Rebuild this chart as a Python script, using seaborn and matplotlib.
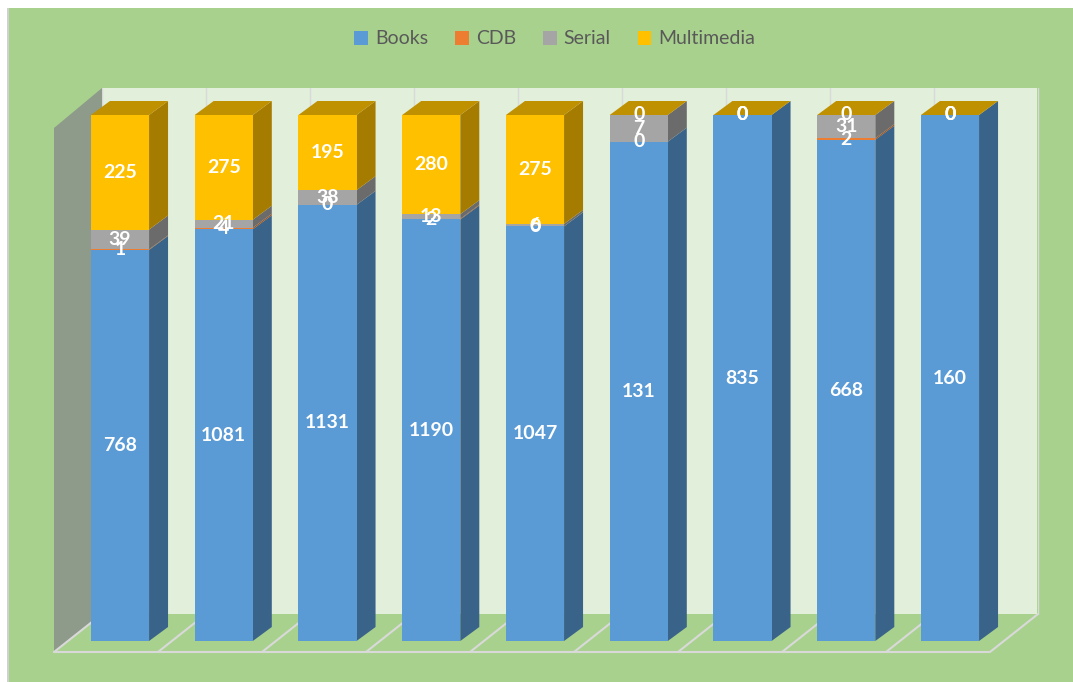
import numpy as np
import pandas as pd
import matplotlib
matplotlib.use("Agg")
import matplotlib.pyplot as plt
from matplotlib.patches import Rectangle, Polygon
import seaborn as sns

categories = ["1", "2", "3", "4", "5", "6", "7", "8", "9"]
books = [768, 1081, 1131, 1190, 1047, 131, 835, 668, 160]
cdb = [1, 4, 0, 2, 0, 0, 0, 2, 0]
serial = [39, 21, 38, 13, 6, 7, 0, 31, 0]
multimedia = [225, 275, 195, 280, 275, 0, 0, 0, 0]

series_names = ["Books", "CDB", "Serial", "Multimedia"]
series_vals = [books, cdb, serial, multimedia]
front_cols = ["#5B9BD5", "#ED7D31", "#A5A5A5", "#FFC000"]
side_cols = ["#3A6389", "#9E5220", "#6B6B6B", "#A67C00"]
top_col = "#BF9000"

sns.set_theme(style="white")
plt.rcParams["font.family"] = ["Lato", "DejaVu Sans"]

W, H = 1073, 682
fig = plt.figure(figsize=(W / 100, H / 100), dpi=100, facecolor="white")
ax = fig.add_axes([0, 0, 1, 1])
ax.patch.set_alpha(0)
# chart area background (white margin at top/left as in reference)
ax.add_patch(Rectangle((8 / W, 0), 1 - 8 / W, 1 - 8 / H, transform=ax.transAxes,
                       facecolor="#A9D18E", edgecolor="none", zorder=-2))
ax.add_patch(Rectangle((7 / W, 0), 1.5 / W, 1 - 8 / H, transform=ax.transAxes,
                       facecolor="#D0D0D0", edgecolor="none", zorder=-2))

# pixel -> data mapping
px0, pstep = 120.0, 103.75
ybot, ytop = 641.0, 115.0
def xd(px): return (px - px0) / pstep
def yd(py): return (ybot - py) / (ybot - ytop)

n = len(categories)
vals = np.array(series_vals, dtype=float)
tot = vals.sum(axis=0)
frac = vals / tot
cum = np.cumsum(frac, axis=0)
starts = cum - frac

# walls & floor
bw_x0, bw_x1 = xd(102), xd(1037)
bw_y0, bw_y1 = yd(614), yd(88)
ax.add_patch(Polygon([(bw_x0, bw_y0), (bw_x1, bw_y0), (bw_x1, bw_y1), (bw_x0, bw_y1)],
                     closed=True, facecolor="#E2EFDA", edgecolor="none", zorder=0))
fl_dx = xd(102) - xd(54)
ax.add_patch(Polygon([(xd(54), yd(652)), (xd(989), yd(652)), (bw_x1, bw_y0), (bw_x0, bw_y0)],
                     closed=True, facecolor="#A9D18E", edgecolor="none", zorder=0.5))
ax.add_patch(Polygon([(xd(54), yd(652)), (bw_x0, bw_y0), (bw_x0, bw_y1), (xd(54), yd(128))],
                     closed=True, facecolor="#8E9A8A", edgecolor="none", zorder=0.6))
# floor gridlines
gl = "#D9D9D9"
for k in range(n + 1):
    fx = xd(54 + k * 104)
    ax.plot([fx, fx + fl_dx], [yd(652), bw_y0], color=gl, lw=1.5, zorder=0.7)
    ax.plot([fx + fl_dx, fx + fl_dx], [bw_y0, bw_y1], color=gl, lw=1.0, zorder=0.3)
ax.plot([xd(54), xd(989)], [yd(652), yd(652)], color=gl, lw=1.5, zorder=0.7)

# front faces via seaborn (draw cumulative tops from last series down)
df = pd.DataFrame({"cat": categories})
bw = 0.56
for i in range(len(series_names) - 1, -1, -1):
    df["top"] = cum[i]
    sns.barplot(data=df, x="cat", y="top", color=front_cols[i], width=bw,
                saturation=1, ax=ax, zorder=3, linewidth=0)

# 3D side & top faces computed from data
ddx, ddy = xd(168) - xd(149), yd(101) - yd(115)
for j in range(n):
    xr = j + bw / 2
    xl = j - bw / 2
    for i in range(len(series_names)):
        y0, y1 = starts[i, j], cum[i, j]
        if y1 - y0 <= 0:
            continue
        ax.add_patch(Polygon([(xr, y0), (xr + ddx, y0 + ddy), (xr + ddx, y1 + ddy), (xr, y1)],
                             closed=True, facecolor=side_cols[i], edgecolor="none", zorder=2.5))
    yt = cum[-1, j]
    ax.add_patch(Polygon([(xl, yt), (xr, yt), (xr + ddx, yt + ddy), (xl + ddx, yt + ddy)],
                         closed=True, facecolor=top_col, edgecolor="none", zorder=2.5))

# labels
for j in range(n):
    for i in range(len(series_names)):
        yc = (starts[i, j] + cum[i, j]) / 2
        ax.text(j, yc, f"{int(vals[i, j])}", ha="center", va="center", color="white",
                fontsize=14, fontweight="bold", zorder=5)

ax.set_xlim(xd(0), xd(W))
ax.set_ylim(yd(H), yd(0))
ax.set_axis_off()

# legend
handles = [Rectangle((0, 0), 1, 1, facecolor=c, edgecolor="none") for c in front_cols]
fig.legend(handles, series_names, loc="center", bbox_to_anchor=(0.517, 1 - 39 / H),
           ncol=4, frameon=False, fontsize=14, labelcolor="#595959",
           handlelength=0.7, handleheight=0.7, handletextpad=0.35, columnspacing=1.4)

fig.savefig("out.png", dpi=100, facecolor=fig.get_facecolor())
